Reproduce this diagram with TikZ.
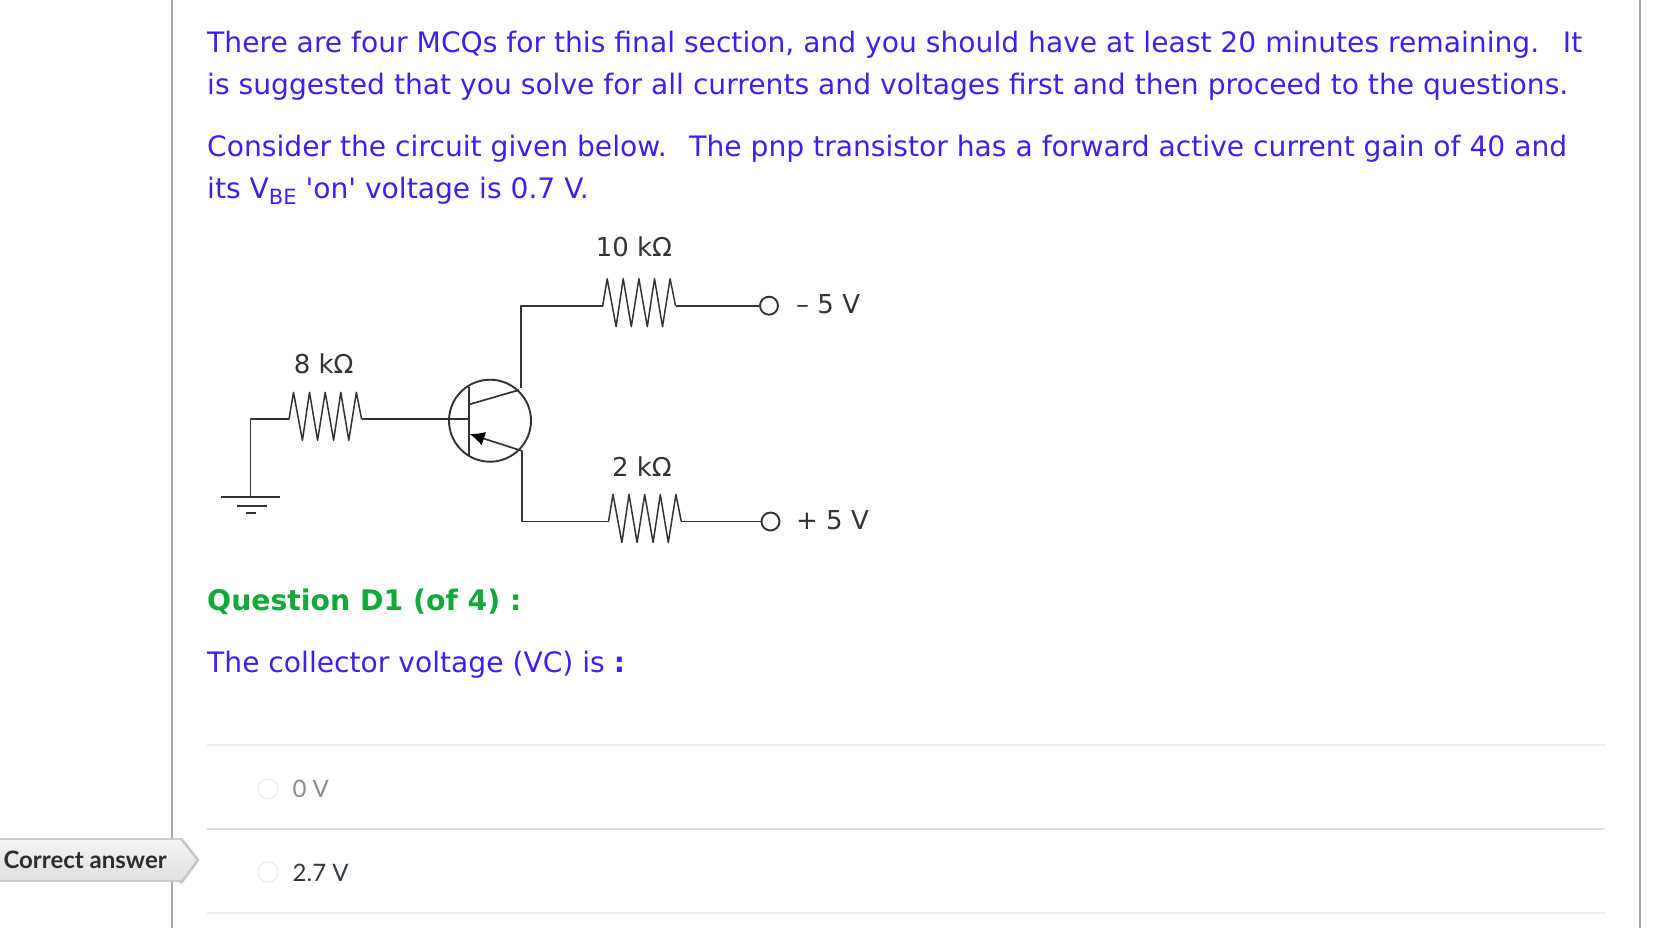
\documentclass[tikz,border=0pt]{standalone}
\usepackage{fontspec}
\setmainfont{DejaVu Sans}
\newfontfamily\vfont{DejaVu Sans}
\newfontfamily\lfont{Lato}
\usetikzlibrary{arrows.meta}
\definecolor{qblue}{HTML}{3A22EE}
\definecolor{qgreen}{HTML}{12A83C}
\definecolor{wirec}{HTML}{333333}
\tikzset{
 x=1pt,y=-1pt,
 qtext/.style={anchor=base west,inner sep=0,text=qblue,font=\vfont\fontsize{28.15}{28}\selectfont},
 gtext/.style={anchor=base west,inner sep=0,text=qgreen,font=\vfont\bfseries\fontsize{28.3}{28}\selectfont},
 clabel/.style={anchor=base,inner sep=0,text=wirec,font=\vfont\fontsize{26}{26}\selectfont},
 wire/.style={draw=wirec,line width=1.7pt,line join=round},
 zig/.style={draw=wirec,line width=1.5pt,line join=round},
 term/.style={circle,draw=wirec,line width=1.9pt,fill=white,minimum size=18pt,inner sep=0},
 sepline/.style={draw=#1,line width=1.6pt},
 radio/.style={circle,draw=black!8,line width=1pt,fill=white,minimum size=20pt,inner sep=0},
 frameline/.style={draw=black!35,line width=2pt},
}
\newcommand{\zigzag}[2]{% start coordinate name, end coordinate name
 \draw[zig] (#1) -- ++(4.5,-27) -- ++(8.9,48) -- ++(7.1,-48) -- ++(8.1,48) -- ++(7.6,-48) -- ++(8.4,48) -- ++(7.2,-48) -- ++(8,48) -- ++(7.6,-48) -- (#2);
}
\begin{document}
\begin{tikzpicture}
\useasboundingbox (0,0) rectangle (1664,928);
\fill[white] (0,0) rectangle (1664,928);
% frame
\coordinate (fl1) at (172,0); \coordinate (fl2) at (172,928);
\coordinate (fr1) at (1640,0); \coordinate (fr2) at (1640,928);
\draw[frameline] (fl1) -- (fl2);
\draw[frameline] (fr1) -- (fr2);
% text
\node[qtext] (t1) at (207,52.7) {There are four MCQs for this final section, and you should have at least 20 minutes remaining.\hspace{0.42em} It};
\node[qtext] (t2) at (207,95) {is suggested that you solve for all currents and voltages first and then proceed to the questions.};
\node[qtext] (t3) at (207,156.7) {Consider the circuit given below.\hspace{0.38em} The pnp transistor has a forward active current gain of 40 and};
\node[qtext] (t4) at (207,199) {its V\raisebox{-0.2em}{\fontsize{21}{21}\selectfont BE} 'on' voltage is 0.7 V.};
\node[gtext] (q1) at (207,610) {Question D1 (of 4) :};
\node[qtext] (q2) at (207,672) {The collector voltage (VC) is \textbf{:}};
% circuit points
\coordinate (gnd) at (250.5,497);
\coordinate (gc) at (250.5,419.3);
\coordinate (r8a) at (289,419.3);
\coordinate (r8b) at (361.6,419.3);
\coordinate (bjt) at (490,420.7);
\coordinate (bb) at (468.7,419.3);
\coordinate (bt) at (468.7,386.7);
\coordinate (bd) at (468.7,455);
\coordinate (cin) at (469,404.5);
\coordinate (cout) at (519,390);
\coordinate (cv) at (521,388);
\coordinate (ct) at (521,305.7);
\coordinate (r10a) at (602.7,305.7);
\coordinate (r10b) at (675.5,305.7);
\coordinate (ein) at (469.5,434);
\coordinate (eout) at (522.3,451);
\coordinate (eb) at (522.3,521.5);
\coordinate (r2a) at (608.5,521.5);
\coordinate (r2b) at (681.3,521.5);
\node[term] (tm) at (769,305.7) {};
\node[term] (tp) at (770.5,521.5) {};
\node[circle,draw=wirec,line width=1.9pt,minimum size=82pt,inner sep=0] (q) at (bjt) {};
% wires
\draw[wire] (gnd) -- (gc) -- (r8a);
\zigzag{r8a}{r8b}
\draw[wire] (r8b) -- (bb);
\draw[wire] (bt) -- (bd);
\draw[wire] (cin) -- (cout);
\draw[wire] (cv) -- (ct) -- (r10a);
\zigzag{r10a}{r10b}
\draw[wire] (r10b) -- (tm);
\draw[wire,-{Latex[length=15pt,width=14pt,color=black]}] (eout) -- (ein);
\draw[wire] (eout) -- (eb) -- (r2a);
\zigzag{r2a}{r2b}
\draw[wire] (r2b) -- (tp);
% ground
\coordinate (g1a) at (221,497.3); \coordinate (g1b) at (280,497.3);
\coordinate (g2a) at (237,506); \coordinate (g2b) at (267,506);
\coordinate (g3a) at (245.5,512.7); \coordinate (g3b) at (256,512.7);
\draw[wire] (g1a) -- (g1b);
\draw[wire] (g2a) -- (g2b);
\draw[wire] (g3a) -- (g3b);
% labels
\node[clabel] (l10) at (634,256) {10 kΩ};
\node[clabel] (l8) at (323.7,373.5) {8 kΩ};
\node[clabel] (l2) at (642,476) {2 kΩ};
\node[clabel,anchor=base west] (lm) at (796,313) {– 5 V};
\node[clabel,anchor=base west] (lp) at (796,529) {+ 5 V};
% options
\coordinate (s1a) at (207,745); \coordinate (s1b) at (1605,745);
\coordinate (s2a) at (207,829); \coordinate (s2b) at (1605,829);
\coordinate (s3a) at (207,913); \coordinate (s3b) at (1605,913);
\draw[sepline=black!7] (s1a) -- (s1b);
\draw[sepline=black!14] (s2a) -- (s2b);
\draw[sepline=black!7] (s3a) -- (s3b);
\node[radio] (ra) at (268,789) {};
\node[radio] (rb) at (268,872) {};
\node[anchor=base west,inner sep=0,text=black!45,font=\lfont\fontsize{24}{24}\selectfont] (oa) at (292.5,797) {0 V};
\node[anchor=base west,inner sep=0,text={rgb,255:red,45;green,59;blue,69},font=\lfont\fontsize{24}{24}\selectfont] (ob) at (292.5,881) {2.7 V};
% tag
\fill[top color=black!4,bottom color=black!13] (-2,839) -- (181,839) -- (198,860) -- (181,882) -- (-2,881) -- cycle;
\draw[draw=black!22,line width=2.6pt,line join=round] (181,838.5) -- (198,860) -- (181,883);
\draw[draw=black!20,line width=1.6pt] (-2,839) -- (181,839);
\draw[draw=black!20,line width=1.6pt] (-2,881) -- (181,881);
\node[anchor=base west,inner sep=0,text=black!82,font=\lfont\bfseries\fontsize{24}{24}\selectfont] (tag) at (3.3,868.3) {Correct answer};
\end{tikzpicture}
\end{document}
